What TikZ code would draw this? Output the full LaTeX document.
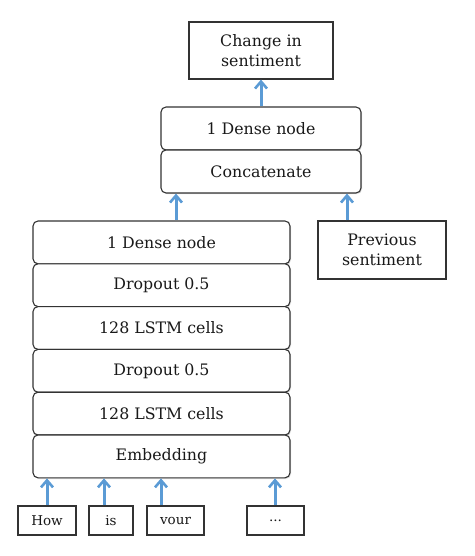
\documentclass[tikz,border=0pt]{standalone}
\usepackage{fontspec}
\setmainfont{DejaVu Serif}
\usetikzlibrary{arrows.meta,shadows,calc}
\definecolor{arrblue}{HTML}{5B9BD5}
\definecolor{boxline}{HTML}{333333}
\begin{document}
\begin{tikzpicture}[x=1pt,y=-1pt,
  base/.style={draw=boxline,line width=1.1pt,fill=white,align=center,inner sep=0pt,
    font=\fontsize{15.8}{19.5}\selectfont,text=black!90,
    drop shadow={opacity=0.25,shadow xshift=1pt,shadow yshift=-1.2pt}},
  layer/.style={base,rounded corners=5pt,minimum width=257pt,minimum height=42.8pt},
  toplayer/.style={base,rounded corners=5pt,minimum width=200pt,minimum height=43pt},
  plainbox/.style={base},
  word/.style={base,minimum height=29pt,font=\fontsize{13.5}{16}\selectfont},
  arr/.style={draw=arrblue,line width=3pt,-{Straight Barb[length=7pt,width=12pt,line width=2.6pt]}}]
\useasboundingbox (0,0) rectangle (474,556);
% left stack
\node[layer] (L1) at (161.5,242.4) {1 Dense node};
\node[layer] (L2) at (161.5,285.2) {Dropout 0.5};
\node[layer] (L3) at (161.5,328.0) {128 LSTM cells};
\node[layer] (L4) at (161.5,370.8) {Dropout 0.5};
\node[layer] (L5) at (161.5,413.6) {128 LSTM cells};
\node[layer] (emb) at (161.5,456.4) {Embedding};
% top stack
\node[toplayer] (dense) at (261,128.5) {1 Dense node};
\node[toplayer] (concat) at (261,171.5) {Concatenate};
% output
\node[plainbox,minimum width=144pt,minimum height=57pt] (change) at (261,50.5) {Change in\\sentiment};
\node[plainbox,minimum width=128pt,minimum height=58pt] (prev) at (382,250) {Previous\\sentiment};
% words
\node[word,minimum width=58pt] (w1) at (47,520.5) {How};
\node[word,minimum width=44pt] (w2) at (111,520.5) {is};
\node[word,minimum width=57pt] (w3) at (175.5,520.5) {vour};
\node[word,minimum width=57pt] (w4) at (275.5,520.5) {...};
% arrow columns
\coordinate (a1) at (47,0);
\coordinate (a2) at (104,0);
\coordinate (a3) at (161,0);
\coordinate (a4) at (275,0);
\coordinate (c1) at (176,0);
\coordinate (c2) at (347,0);
\draw[arr] (w1.north -| a1) -- (emb.south -| a1);
\draw[arr] (w2.north -| a2) -- (emb.south -| a2);
\draw[arr] (w3.north -| a3) -- (emb.south -| a3);
\draw[arr] (w4.north -| a4) -- (emb.south -| a4);
\draw[arr] (L1.north -| c1) -- (concat.south -| c1);
\draw[arr] (prev.north -| c2) -- (concat.south -| c2);
\draw[arr] (dense.north) -- (change.south);
\end{tikzpicture}
\end{document}
